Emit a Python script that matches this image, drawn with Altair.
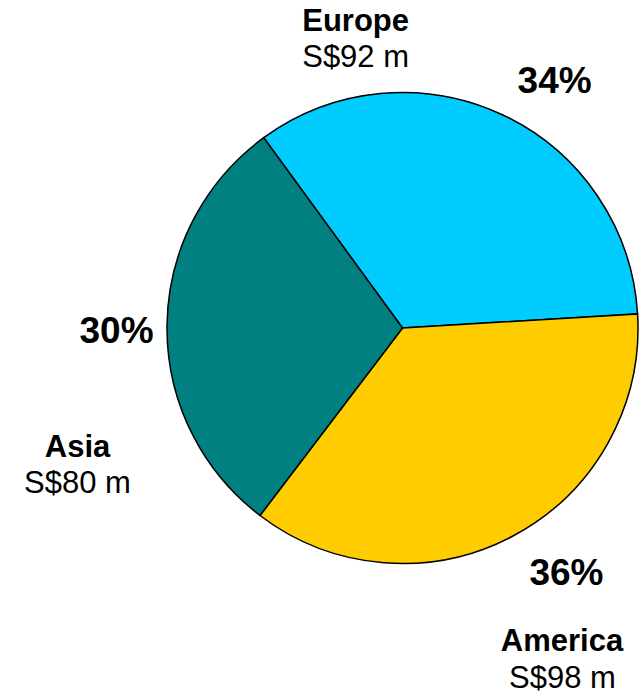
import math
import altair as alt
import pandas as pd

# Data
regions = ["Europe", "America", "Asia"]
values = [92, 98, 80]
colors = ["#00CCFF", "#FFCC00", "#008080"]

total = sum(values)
pct_labels = [f"{round(v / total * 100)}%" for v in values]
amount_labels = [f"S${v} m" for v in values]

df = pd.DataFrame({
    "region": regions,
    "value": values,
    "order": list(range(len(regions))),
    "pct": pct_labels,
    "amount": amount_labels,
})

# Styling / layout constants
START = -math.radians(36.1)
FONT = "Liberation Sans"
PIE_R = 235.5
LABEL_R = 290
OFFSETS = {
    "Europe": {"pct": (28.5, 27.4), "name": (-170.5, -34.6), "amount": (-170.5, 1.4)},
    "America": {"pct": (27.4, 1.2), "name": (22.9, 67.5), "amount": (23.4, 104.5)},
    "Asia": {"pct": (4, 18), "name": (-35, 132), "amount": (-35, 168)},
}

base = alt.Chart(df).transform_window(
    end="sum(value)", sort=[alt.SortField("order")], frame=[None, 0]
).transform_calculate(
    start="datum.end - datum.value",
    mid="datum.end - datum.value / 2",
)

theta_scale = alt.Scale(domain=[0, total], range=[START, START + 2 * math.pi])

arc = base.mark_arc(outerRadius=PIE_R, stroke="black", strokeWidth=1.5).encode(
    theta=alt.Theta("start:Q", scale=theta_scale, stack=None),
    theta2="end:Q",
    color=alt.Color("region:N", scale=alt.Scale(domain=regions, range=colors), legend=None),
)

layers = [arc]
for r in regions:
    for kind, field, size, weight in [
        ("pct", "pct", 37, "bold"),
        ("name", "region", 31, "bold"),
        ("amount", "amount", 31, "normal"),
    ]:
        dx, dy = OFFSETS[r][kind]
        layers.append(
            base.transform_filter(alt.datum.region == r)
            .mark_text(
                radius=LABEL_R, dx=dx, dy=dy, font=FONT, fontSize=size,
                fontWeight=weight, color="black", align="center", baseline="alphabetic",
            )
            .encode(theta=alt.Theta("mid:Q", stack=None), text=f"{field}:N")
        )

chart = alt.layer(*layers).properties(
    width=471,
    height=471,
    padding={"left": 167, "top": 92.5, "right": 1, "bottom": 132.5},
    autosize=alt.AutoSizeParams(type="none"),
    background="white",
).configure_view(strokeWidth=0)

chart.save("out.html", embed_options={"renderer": "svg", "actions": False})
